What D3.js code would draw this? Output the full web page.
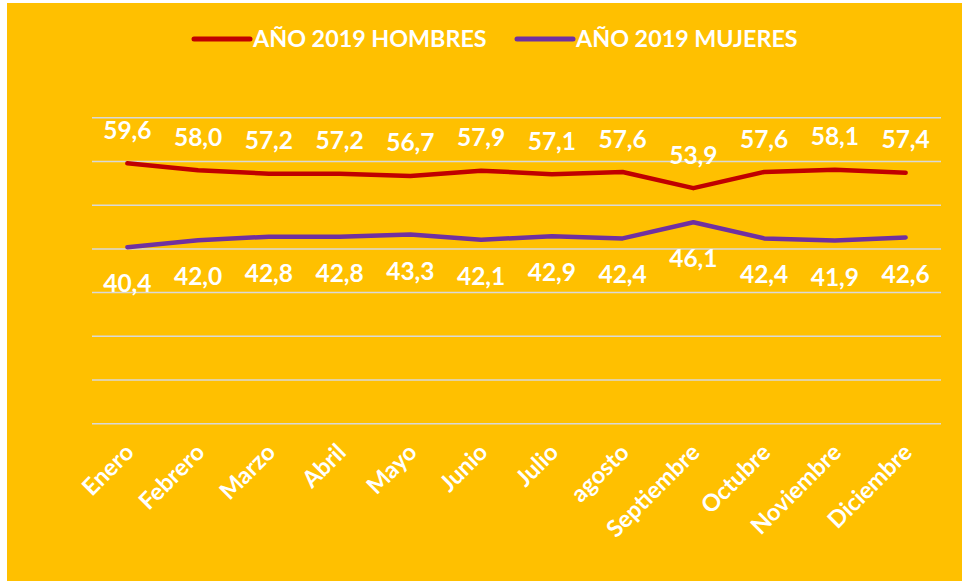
<!DOCTYPE html>
<html><head><meta charset="utf-8">
<script src="https://cdn.jsdelivr.net/npm/d3@7"></script>
<style>html,body{margin:0;padding:0;background:#fff;}svg{display:block;}</style>
</head><body>
<svg id="chart" width="962" height="581"></svg>
<script>
const months = ["Enero","Febrero","Marzo","Abril","Mayo","Junio","Julio","agosto","Septiembre","Octubre","Noviembre","Diciembre"];
const hombres = [59.6,58.0,57.2,57.2,56.7,57.9,57.1,57.6,53.9,57.6,58.1,57.4];
const mujeres = [40.4,42.0,42.8,42.8,43.3,42.1,42.9,42.4,46.1,42.4,41.9,42.6];
const yTicks = [0,10,20,30,40,50,60,70];
const seriesNames = ["AÑO 2019 HOMBRES","AÑO 2019 MUJERES"];
const seriesColors = ["#C00000","#7030A0"];

const svg = d3.select("#chart");
const font = "Lato, 'Open Sans', sans-serif";
svg.append("rect").attr("x",7).attr("y",3).attr("width",955).attr("height",578).attr("fill","#FFC000");

const x = d3.scaleBand().domain(months).range([92,941]);
const y = d3.scaleLinear().domain([0,70]).range([423.7,117.8]);
const cx = m => x(m) + x.bandwidth()/2;

// gridlines
svg.append("g").selectAll("line").data(yTicks).join("line")
  .attr("x1",92).attr("x2",941).attr("y1",d=>y(d)).attr("y2",d=>y(d))
  .attr("stroke","#D9D9D9").attr("stroke-width",1.5);

// x axis labels
const xa = svg.append("g").call(d3.axisBottom(x).tickSize(0).tickPadding(0));
xa.select(".domain").remove();
xa.attr("transform","translate(0,448)");
xa.selectAll("text")
  .attr("font-family",font).attr("font-weight","bold").attr("font-size",23.5).attr("fill","#fff")
  .attr("text-anchor","end").attr("dy","0.35em")
  .attr("transform","translate(2,0) rotate(-45)");

const fmt = v => d3.format(".1f")(v).replace(".",",");
const line = d3.line().x((d,i)=>cx(months[i])).y(d=>y(d));

[hombres,mujeres].forEach((vals,si)=>{
  svg.append("path").datum(vals).attr("d",line).attr("fill","none")
    .attr("stroke",seriesColors[si]).attr("stroke-width",4.5)
    .attr("stroke-linejoin","round").attr("stroke-linecap","round");
});
[hombres,mujeres].forEach((vals,si)=>{
  svg.append("g").selectAll("text").data(vals).join("text")
    .attr("x",(d,i)=>cx(months[i]))
    .attr("y",d=> si===0 ? y(d)-33 : y(d)+36.5)
    .attr("dy","0.35em")
    .attr("text-anchor","middle")
    .attr("font-family",font).attr("font-weight","bold").attr("font-size",24.5).attr("fill","#fff")
    .text(fmt);
});

// legend
const legX = [194,517];
seriesNames.forEach((n,i)=>{
  const g = svg.append("g");
  g.append("line").attr("x1",legX[i]).attr("x2",legX[i]+56).attr("y1",39).attr("y2",39)
    .attr("stroke",seriesColors[i]).attr("stroke-width",5).attr("stroke-linecap","round");
  g.append("text").attr("x",legX[i]+59).attr("y",39).attr("dy","0.35em")
    .attr("font-family",font).attr("font-weight","bold").attr("font-size",23.3).attr("fill","#fff")
    .text(n);
});
</script>
</body></html>
